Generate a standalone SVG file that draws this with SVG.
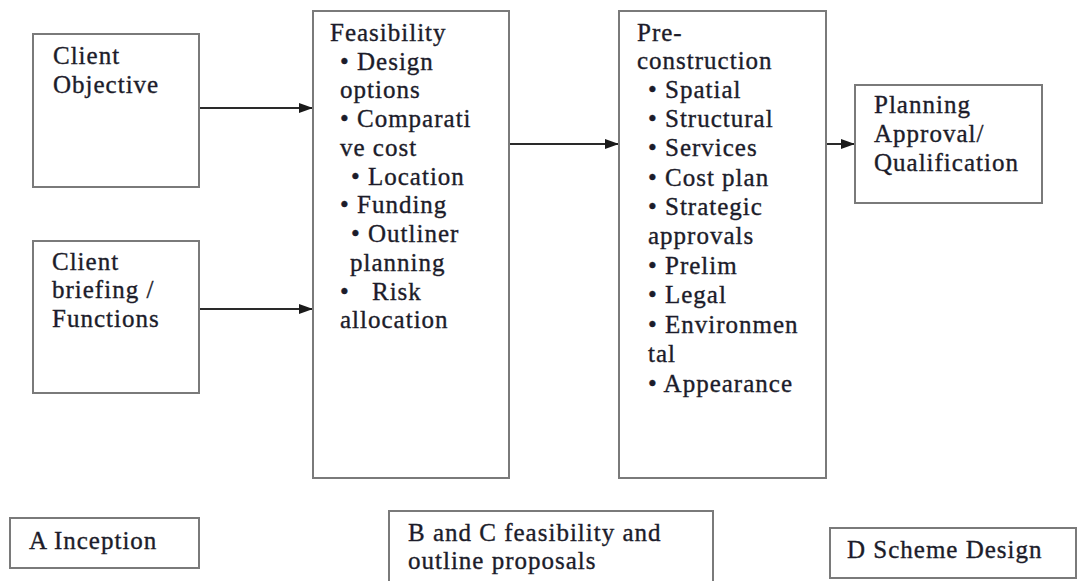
<svg xmlns="http://www.w3.org/2000/svg" width="1086" height="581" viewBox="0 0 1086 581">
  <style>
    .box { fill: #ffffff; stroke: #7a7a7a; stroke-width: 2; }
    .lbl { font-family: 'Liberation Serif', 'Times New Roman', serif; font-size: 25px; fill: #1c1c2a; stroke: #1c1c2a; stroke-width: 0.35; letter-spacing: 1px; }
    .conn { stroke: #2a2a2a; stroke-width: 2; fill: none; marker-end: url(#arrow); }
  </style>
  <defs>
    <marker id="arrow" markerUnits="userSpaceOnUse" markerWidth="14" markerHeight="12" refX="14" refY="6" orient="auto">
      <path d="M0,1 L14,6 L0,11 Z" fill="#1a1a1a"/>
    </marker>
  </defs>

  <rect width="1086" height="581" fill="#ffffff"/>

  <!-- connectors -->
  <g id="connectors">
    <line class="conn" x1="199" y1="108" x2="313" y2="108"/>
    <line class="conn" x1="199" y1="309" x2="313" y2="309"/>
    <line class="conn" x1="509" y1="144" x2="619" y2="144"/>
    <line class="conn" x1="826" y1="144" x2="855" y2="144"/>
  </g>

  <g id="client-objective">
    <rect class="box" x="33" y="34" width="166" height="153"/>
    <text class="lbl" x="53" y="64">Client</text>
    <text class="lbl" x="53" y="93">Objective</text>
  </g>

  <g id="client-briefing">
    <rect class="box" x="33" y="241" width="166" height="152"/>
    <text class="lbl" x="52" y="270">Client</text>
    <text class="lbl" x="52" y="298">briefing /</text>
    <text class="lbl" x="52" y="327">Functions</text>
  </g>

  <g id="feasibility">
    <rect class="box" x="313" y="11" width="196" height="467"/>
    <text class="lbl" x="330" y="41">Feasibility</text>
    <text class="lbl" x="340" y="70">• Design</text>
    <text class="lbl" x="340" y="98">options</text>
    <text class="lbl" x="340" y="127">• Comparati</text>
    <text class="lbl" x="340" y="156">ve cost</text>
    <text class="lbl" x="351" y="185">• Location</text>
    <text class="lbl" x="340" y="213">• Funding</text>
    <text class="lbl" x="351" y="242">• Outliner</text>
    <text class="lbl" x="350" y="271">planning</text>
    <text class="lbl" x="340" y="300">•</text>
    <text class="lbl" x="372" y="300">Risk</text>
    <text class="lbl" x="340" y="328">allocation</text>
  </g>

  <g id="pre-construction">
    <rect class="box" x="619" y="11" width="207" height="467"/>
    <text class="lbl" x="637" y="41">Pre-</text>
    <text class="lbl" x="637" y="69">construction</text>
    <text class="lbl" x="648" y="98">• Spatial</text>
    <text class="lbl" x="648" y="127">• Structural</text>
    <text class="lbl" x="648" y="156">• Services</text>
    <text class="lbl" x="648" y="186">• Cost plan</text>
    <text class="lbl" x="648" y="215">• Strategic</text>
    <text class="lbl" x="648" y="244">approvals</text>
    <text class="lbl" x="648" y="274">• Prelim</text>
    <text class="lbl" x="648" y="303">• Legal</text>
    <text class="lbl" x="648" y="333">• Environmen</text>
    <text class="lbl" x="648" y="362">tal</text>
    <text class="lbl" x="648" y="392">• Appearance</text>
  </g>

  <g id="planning-approval">
    <rect class="box" x="855" y="85" width="187" height="118"/>
    <text class="lbl" x="874" y="113">Planning</text>
    <text class="lbl" x="874" y="142">Approval/</text>
    <text class="lbl" x="874" y="171">Qualification</text>
  </g>

  <g id="stage-a">
    <rect class="box" x="10" y="518" width="189" height="50"/>
    <text class="lbl" x="29" y="549">A Inception</text>
  </g>

  <g id="stage-bc">
    <rect class="box" x="389" y="511" width="324" height="80"/>
    <text class="lbl" x="408" y="541">B and C feasibility and</text>
    <text class="lbl" x="408" y="569">outline proposals</text>
  </g>

  <g id="stage-d">
    <rect class="box" x="830" y="528" width="246" height="50"/>
    <text class="lbl" x="847" y="558">D Scheme Design</text>
  </g>
</svg>
